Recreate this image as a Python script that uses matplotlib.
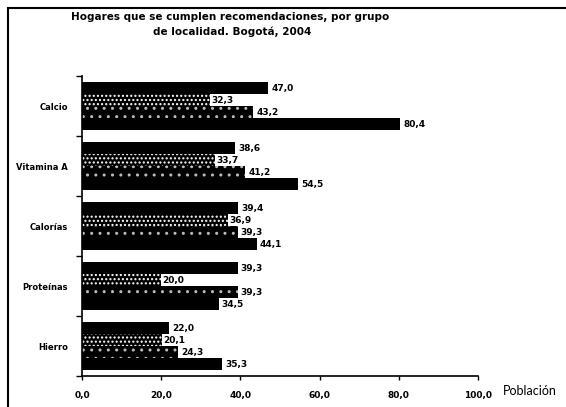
import matplotlib
matplotlib.use('Agg')
import matplotlib.pyplot as plt
from matplotlib.patches import Rectangle

# Data (top to bottom)
categories = ['Calcio', 'Vitamina A', 'Calorías', 'Proteínas', 'Hierro']
serie1 = [47.0, 38.6, 39.4, 39.3, 22.0]
serie2 = [32.3, 33.7, 36.9, 20.0, 20.1]
serie3 = [43.2, 41.2, 39.3, 39.3, 24.3]
serie4 = [80.4, 54.5, 44.1, 34.5, 35.3]
xticks = [0, 20, 40, 60, 80, 100]

series = [serie1, serie2, serie3, serie4]
hatches = [None, '....', '..', None]
hatch_colors = ['black', 'white', '#bbbbbb', 'black']


def fmt(v):
    # comma as decimal separator
    return ('%.1f' % v).replace('.', ',')


fig = plt.figure(figsize=(5.66, 4.07), dpi=100)
ax = fig.add_axes([82 / 566, 1 - 376 / 407, 396 / 566, 300 / 407])

plt.rcParams['hatch.linewidth'] = 1.0
bar_h = 0.2
for j, values in enumerate(series):
    ypos = [i + 0.2 + bar_h * j for i in range(len(categories))]
    ax.barh(ypos, values, height=bar_h, color='black',
            edgecolor=hatch_colors[j], hatch=hatches[j], linewidth=0)
    for y, v in zip(ypos, values):
        if j == 1:
            ax.text(v + 0.3, y, fmt(v), va='center', ha='left', fontsize=6.5,
                    fontweight='bold',
                    bbox=dict(facecolor='white', edgecolor='none', pad=0.6))
        else:
            ax.text(v + 0.8, y, fmt(v), va='center', ha='left', fontsize=6.5,
                    fontweight='bold')

ax.set_xlim(0, 100)
ax.set_ylim(len(categories), 0)

# x axis
ax.set_xticks(xticks)
ax.set_xticklabels([fmt(t) for t in xticks], fontsize=6.5, fontweight='bold')
ax.tick_params(axis='x', direction='out', length=3, width=1, pad=8)

# y axis: ticks at category boundaries, labels in the middle
ax.set_yticks(range(len(categories) + 1))
ax.set_yticklabels([])
ax.set_yticks([i + 0.5 for i in range(len(categories))], minor=True)
ax.set_yticklabels(categories, minor=True, fontsize=6, fontweight='bold')
ax.tick_params(axis='y', which='major', direction='out', length=4, width=1)
ax.tick_params(axis='y', which='minor', length=0, pad=10)

for side in ['top', 'right']:
    ax.spines[side].set_visible(False)
ax.spines['left'].set_linewidth(1.2)
ax.spines['bottom'].set_linewidth(1.2)

# title and axis name
fig.text(230 / 566, 1 - 17 / 407,
         'Hogares que se cumplen recomendaciones, por grupo',
         ha='center', va='center', fontsize=7.5, fontweight='heavy')
fig.text(232 / 566, 1 - 32 / 407, 'de localidad. Bogotá, 2004',
         ha='center', va='center', fontsize=7.5, fontweight='heavy')
fig.text(503 / 566, 1 - 391 / 407, 'Población', ha='left', va='center',
         fontsize=9, family='Lato')

# frame of the original figure (left and top edges visible)
fig.patches.append(Rectangle((8 / 566, -0.1), 1.2, 1 - 8 / 407 + 0.1,
                             transform=fig.transFigure, fill=False,
                             edgecolor='black', linewidth=1.5))

fig.savefig('out.png', dpi=100)
